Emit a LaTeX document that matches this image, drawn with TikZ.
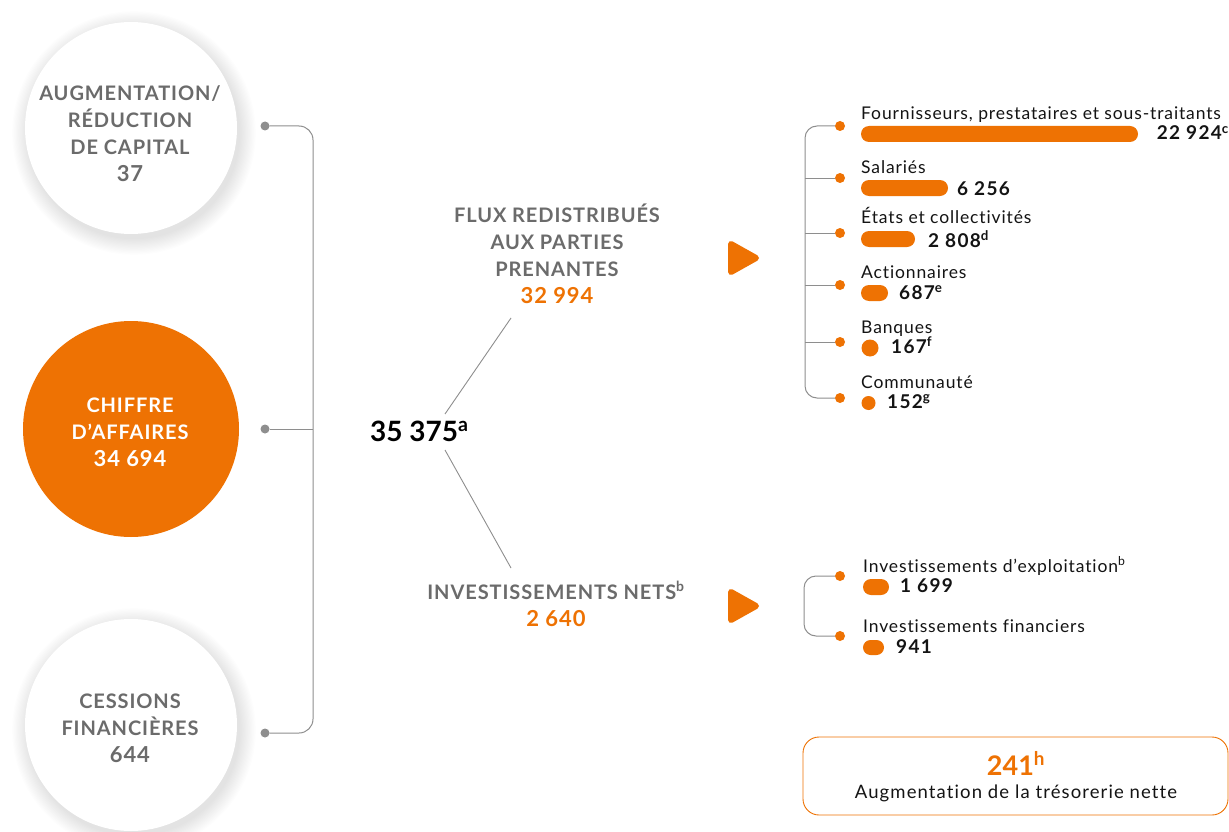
\documentclass[tikz,border=0pt]{standalone}
\usepackage{fontspec}
\setmainfont{Lato}[Ligatures=NoCommon]
\usetikzlibrary{calc}
\definecolor{orng}{HTML}{EE7203}
\definecolor{gtxt}{HTML}{6B6B6B}
\definecolor{gline}{HTML}{8E8E8E}
\definecolor{tblack}{HTML}{141414}
\newcommand\hnum[1]{{\fontsize{22}{27}\selectfont\addfontfeatures{LetterSpace=4}#1}}
\begin{document}
\begin{tikzpicture}[x=1pt,y=-1pt,
  captxt/.style={font=\bfseries\fontsize{20}{27}\selectfont\addfontfeatures{LetterSpace=4.5}, align=center, text=gtxt, inner sep=0pt},
  lbl/.style={font=\fontsize{17.5}{18}\selectfont\addfontfeatures{LetterSpace=5}, anchor=base west, inner sep=0pt, text=tblack},
  val/.style={font=\bfseries\fontsize{19}{19}\selectfont\addfontfeatures{LetterSpace=7}, anchor=base west, inner sep=0pt, text=tblack},
  dotg/.style={circle, fill=gline, inner sep=0pt, minimum size=9pt},
  doto/.style={circle, fill=orng, inner sep=0pt, minimum size=10pt},
  conn/.style={draw=gline, line width=1pt, rounded corners=14pt},
  bar/.style={fill=orng, rounded corners=8pt},
  play/.style={fill=orng, draw=orng, line width=6pt, line join=round}
]
\useasboundingbox (0,0) rectangle (1229,832);
\fill[white] (0,0) rectangle (1229,832);

% ---------- shadows of white circles ----------
\foreach \cy in {128,725}{
  \foreach \i in {1,...,14}{
    \fill[black, opacity=0.009] (134,\cy+5) circle[radius={105pt+\i*1.2pt}];
  }
}
\fill[white] (131,128) circle[radius=106pt];
\fill[white] (131,725) circle[radius=106pt];
\fill[orng] (131,429) circle[radius=108pt];

% ---------- circle texts ----------
\node[captxt] (cap) at (130,134) {AUGMENTATION/\\RÉDUCTION\\DE CAPITAL\\\hnum{37}};
\node[captxt, text=white] (ca) at (130,432) {CHIFFRE\\D'AFFAIRES\\\hnum{34 694}};
\node[captxt] (cess) at (130,728) {CESSIONS\\FINANCIÈRES\\\hnum{644}};

% ---------- left bracket ----------
\node[dotg] (ld1) at (265,126) {};
\node[dotg] (ld2) at (265,429) {};
\node[dotg] (ld3) at (265,733) {};
\coordinate (vx) at (313,429);
\draw[conn] (ld1) -- (ld1 -| vx) -- (ld3 -| vx) -- (ld3);
\draw[conn] (ld2) -- (vx);

% ---------- centre ----------
\node[font=\bfseries\fontsize{28}{28}\selectfont, anchor=base west, inner sep=0pt, text=black] (tot) at (370,441) {35 375\textsuperscript{a}};
\coordinate (t1) at (445,414);
\coordinate (t2) at (511,318);
\coordinate (t3) at (445,450);
\coordinate (t4) at (511,568);
\draw[gline, line width=0.9pt] (t1) -- (t2);
\draw[gline, line width=0.9pt] (t3) -- (t4);

\node[captxt] (flux) at (557,254) {FLUX REDISTRIBUÉS\\AUX PARTIES\\PRENANTES\\\textcolor{orng}{\hnum{32 994}}};
\node[captxt] (inv) at (556,604) {INVESTISSEMENTS NETS\textsuperscript{b}\\\textcolor{orng}{\hnum{2 640}}};

% ---------- play triangles ----------
\filldraw[play] (731,244) -- (756,258) -- (731,272) -- cycle;
\filldraw[play] (731,592) -- (756,606) -- (731,620) -- cycle;

% ---------- stakeholders list ----------
\coordinate (rx) at (805,260);
\node[doto] (r1) at (840,126) {};
\node[doto] (r2) at (840,178) {};
\node[doto] (r3) at (840,233) {};
\node[doto] (r4) at (840,285) {};
\node[doto] (r5) at (840,342) {};
\node[doto] (r6) at (840,398) {};
\draw[conn, rounded corners=12pt] (r1) -- (r1 -| rx) -- (r6 -| rx) -- (r6);
\foreach \r in {r2,r3,r4,r5}{ \draw[conn] (\r) -- (\r -| rx); }

\node[lbl] (l1) at (861,120) {Fournisseurs, prestataires et sous-traitants};
\fill[bar] (861,126) rectangle (1138,142);
\node[val, anchor=base east] (v1) at (1229,140) {22 924\textsuperscript{c}};

\node[lbl] (l2) at (861,173) {Salariés};
\fill[bar] (861,180) rectangle (948,196);
\node[val] (v2) at (957,195) {6 256};

\node[lbl] (l3) at (861,223) {États et collectivités};
\fill[bar] (861,231) rectangle (915,247);
\node[val] (v3) at (928,247) {2 808\textsuperscript{d}};

\node[lbl] (l4) at (861,278) {Actionnaires};
\fill[bar] (861,285) rectangle (888,301);
\node[val] (v4) at (899,299) {687\textsuperscript{e}};

\node[lbl] (l5) at (861,333) {Banques};
\fill[orng] (870,348) circle[radius=8.5pt];
\node[val] (v5) at (891,353) {167\textsuperscript{f}};

\node[lbl] (l6) at (861,388) {Communauté};
\fill[orng] (868.5,403) circle[radius=7pt];
\node[val] (v6) at (887,408) {152\textsuperscript{g}};

% ---------- investments list ----------
\coordinate (ix) at (804,606);
\node[doto] (i1) at (840,576) {};
\node[doto] (i2) at (840,636) {};
\draw[conn, rounded corners=12pt] (i1) -- (i1 -| ix) -- (i2 -| ix) -- (i2);

\node[lbl] (il1) at (863,572) {Investissements d'exploitation\textsuperscript{b}};
\fill[bar] (863,579) rectangle (889,595);
\node[val] (iv1) at (900,592) {1 699};

\node[lbl] (il2) at (863,632) {Investissements financiers};
\fill[bar, rounded corners=7.5pt] (863,640) rectangle (884,655);
\node[val] (iv2) at (896,653) {941};

% ---------- cash box ----------
\node[draw=orng, line width=0.9pt, rounded corners=16pt, minimum width=425pt, minimum height=78pt, inner sep=0pt] (box) at (1015.5,776) {};
\node[font=\bfseries\fontsize{27}{27}\selectfont, text=orng, anchor=base, inner sep=0pt] (cash) at (1016,775) {241\textsuperscript{h}};
\node[font=\fontsize{18.5}{18}\selectfont\addfontfeatures{LetterSpace=6}, text=tblack, anchor=base, inner sep=0pt] (cashl) at (1016,798) {Augmentation de la trésorerie nette};
\end{tikzpicture}
\end{document}
